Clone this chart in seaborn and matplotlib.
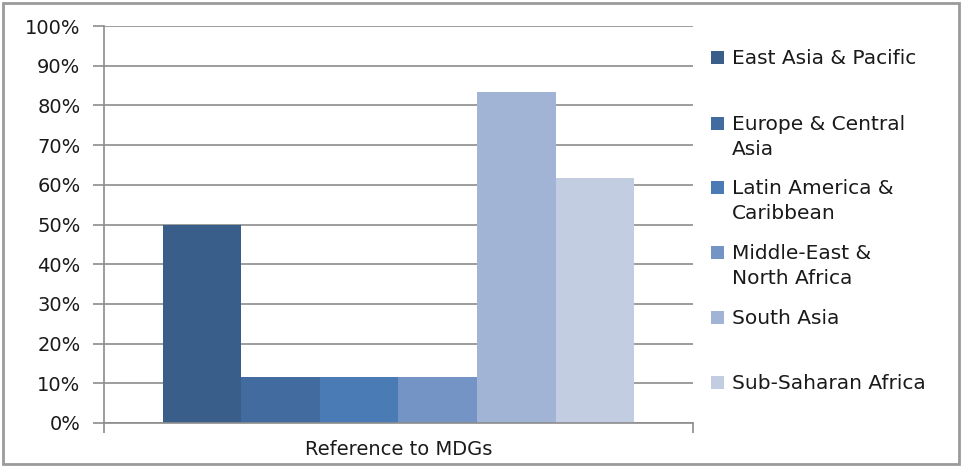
import matplotlib
matplotlib.use("Agg")
import matplotlib.pyplot as plt
from matplotlib.patches import Rectangle
import seaborn as sns
import pandas as pd

# Share of documents referring to the MDGs, by region
category = ["Reference to MDGs"]
regions = ["East Asia & Pacific", "Europe & Central\nAsia", "Latin America &\nCaribbean",
           "Middle-East &\nNorth Africa", "South Asia", "Sub-Saharan Africa"]
values = [0.50, 0.117, 0.117, 0.117, 0.833, 0.618]
colors = ["#3A5E8A", "#426C9F", "#4A7BB5", "#7394C5", "#A2B4D5", "#C2CDE2"]
y_ticks = [i / 10 for i in range(11)]
y_labels = [f"{i * 10}%" for i in range(11)]

df = pd.DataFrame({"group": category * len(regions), "region": regions, "value": values})

sns.set_theme(style="white")
plt.rcParams["font.family"] = ["DejaVu Sans"]
W, H = 962, 466
fig = plt.figure(figsize=(W / 100, H / 100), dpi=100)
ax = fig.add_axes([104 / W, (H - 423) / H, (693 - 104) / W, (423 - 26) / H])

sns.barplot(data=df, x="group", y="value", hue="region", hue_order=regions,
            palette=colors, width=0.8, saturation=1, ax=ax, legend=False,
            edgecolor="none", linewidth=0)

grid_c = "#8C8C8C"
txt_c = "#1a1a1a"
ax.set_xlim(-0.5, 0.5)
ax.set_ylim(0, 1)
ax.set_yticks(y_ticks)
ax.set_yticklabels(y_labels, fontsize=14, color=txt_c)
ax.yaxis.grid(True, color=grid_c, linewidth=1.2)
ax.set_axisbelow(True)
ax.tick_params(axis="y", length=8, width=1.2, color=grid_c, pad=9, left=True)
ax.tick_params(axis="x", which="major", length=0, pad=12, labelsize=14, labelcolor=txt_c)
ax.set_xticks([-0.5, 0.5], minor=True)
ax.tick_params(axis="x", which="minor", length=7, width=1.2, color=grid_c, bottom=True)
ax.set_xlabel("")
ax.set_ylabel("")
for side in ["top", "right"]:
    ax.spines[side].set_visible(False)
for side in ["left", "bottom"]:
    ax.spines[side].set_color(grid_c)
    ax.spines[side].set_linewidth(1.2)

# Legend on the right: swatch aligned with first line of each label
legend_tops = [58, 124, 188, 253, 318, 383]
for lab, col, yc in zip(regions, colors, legend_tops):
    fig.patches.append(Rectangle((711 / W, (H - yc - 6) / H), 13 / W, 13 / H,
                                 transform=fig.transFigure, facecolor=col,
                                 edgecolor="none", figure=fig))
    fig.text(732 / W, (H - yc + 9) / H, lab, fontsize=14.5, color=txt_c,
             va="top", ha="left", linespacing=1.42)

# Outer chart border
fig.patches.append(Rectangle((2.5 / W, 2.5 / H), (W - 5) / W, (H - 5) / H,
                             transform=fig.transFigure, facecolor="none",
                             edgecolor="#9a9a9a", linewidth=2, figure=fig))

fig.savefig("out.png", dpi=100)
